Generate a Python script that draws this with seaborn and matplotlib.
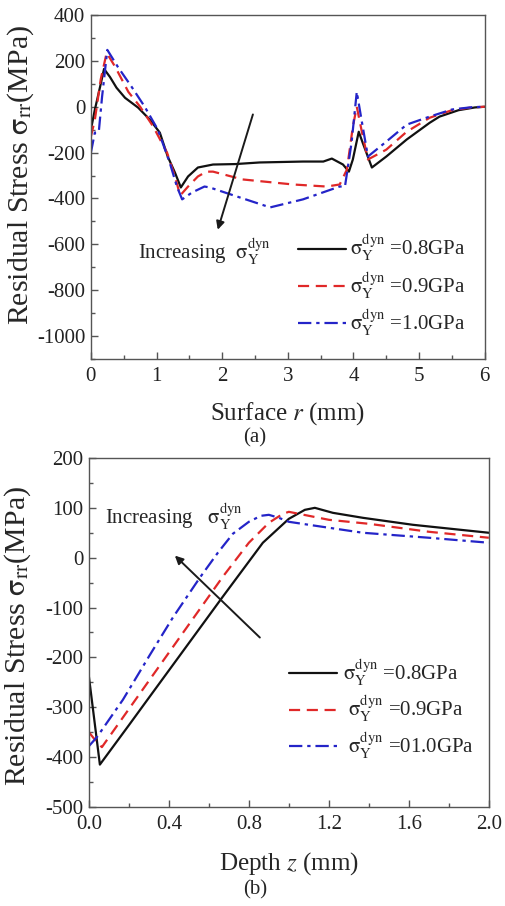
import numpy as np
import pandas as pd
import matplotlib
matplotlib.use("Agg")
import matplotlib.pyplot as plt
import seaborn as sns
from matplotlib.ticker import MultipleLocator

# ---------------- data: panel (a) surface profile ----------------
a_x_08 = [0.0, 0.06, 0.14, 0.2, 0.29, 0.39, 0.52, 0.72, 0.9, 1.05, 1.17, 1.28, 1.37, 1.48, 1.63, 1.86,
          2.2, 2.57, 3.23, 3.54, 3.67, 3.84, 3.93, 3.99, 4.08, 4.14, 4.28, 4.5, 4.81, 5.16, 5.31, 5.6, 5.85, 6.0]
a_y_08 = [-100, -13, 87, 165, 130, 83, 39, -4, -57, -113, -217, -287, -352, -304, -265, -252,
          -250, -243, -239, -239, -226, -252, -283, -230, -109, -157, -265, -217, -143, -70, -43, -15, -3, 0]

a_x_09 = [0.0, 0.06, 0.15, 0.24, 0.37, 0.57, 0.75, 0.95, 1.16, 1.28, 1.36, 1.48, 1.63, 1.76, 1.86,
          2.31, 3.08, 3.59, 3.79, 3.9, 3.99, 4.05, 4.13, 4.22, 4.5, 4.81, 5.16, 5.5, 5.8, 6.0]
a_y_09 = [-130, -57, 120, 235, 174, 65, 0, -87, -200, -304, -387, -348, -304, -283, -283,
          -317, -339, -348, -339, -274, -87, 0, -113, -230, -187, -109, -48, -15, -3, 0]

a_x_10 = [0.0, 0.06, 0.12, 0.17, 0.25, 0.41, 0.62, 0.82, 1.02, 1.2, 1.31, 1.39, 1.54, 1.73, 1.81,
          2.22, 2.73, 3.23, 3.79, 3.87, 3.97, 4.05, 4.13, 4.22, 4.5, 4.81, 5.16, 5.5, 5.8, 6.0]
a_y_10 = [-200, -113, -110, 43, 248, 174, 87, 0, -100, -243, -348, -404, -374, -348, -352,
          -391, -439, -404, -348, -348, -157, 65, -70, -217, -152, -78, -43, -12, -2, 0]

# ---------------- data: panel (b) depth profile ----------------
b_z_08 = [0.0, 0.055, 0.2, 0.3, 0.455, 0.67, 0.87, 1.0, 1.08, 1.13, 1.22, 1.37, 1.62, 2.0]
b_s_08 = [-238, -415, -336, -281, -196, -78, 30, 78, 96, 100, 90, 80, 66, 50]

b_z_09 = [0.0, 0.03, 0.065, 0.3, 0.5, 0.67, 0.8, 0.9, 0.97, 1.0, 1.1, 1.2, 1.4, 1.7, 2.0]
b_s_09 = [-350, -365, -380, -247, -134, -38, 30, 70, 88, 92, 84, 76, 68, 52, 40]

b_z_10 = [0.0, 0.04, 0.17, 0.305, 0.42, 0.555, 0.645, 0.72, 0.8, 0.86, 0.9, 0.95, 1.0, 1.1, 1.37, 1.7, 2.0]
b_s_10 = [-378, -360, -285, -195, -120, -40, 10, 48, 72, 84, 86, 80, 72, 66, 50, 40, 30]

SIG = r"$\mathrm{\sigma}_{\rm Y}^{\rm dyn}$"
labels_a = [SIG + " =0.8GPa", SIG + " =0.9GPa", SIG + " =1.0GPa"]
labels_b = [SIG + " =0.8GPa", " " + SIG + " =0.9GPa", " " + SIG + " =01.0GPa"]

colors = ["#111111", "#e02828", "#2424c8"]
styles = ["-", (0, (5, 3)), (0, (6, 2.2, 1.5, 2.2))]

sns.set_theme(style="white")
plt.rcParams["font.family"] = ["Liberation Serif", "DejaVu Serif"]
plt.rcParams["mathtext.fontset"] = "stix"
plt.rcParams["axes.unicode_minus"] = False

fig = plt.figure(figsize=(5.05, 9.06), dpi=100)
ax1 = fig.add_axes([0.180, 0.6038, 0.780, 0.3796])
ax2 = fig.add_axes([0.176, 0.1093, 0.792, 0.3852])

series_a = [(a_x_08, a_y_08), (a_x_09, a_y_09), (a_x_10, a_y_10)]
series_b = [(b_z_08, b_s_08), (b_z_09, b_s_09), (b_z_10, b_s_10)]

for ax, series, labels in [(ax1, series_a, labels_a), (ax2, series_b, labels_b)]:
    for (xs, ys), c, ls, lab in zip(series, colors, styles, labels):
        sns.lineplot(x=xs, y=ys, ax=ax, color=c, linestyle=ls, lw=1.6,
                     estimator=None, sort=False, label=lab)

fs_tick = 15
for ax in (ax1, ax2):
    for s in ax.spines.values():
        s.set_color("#555555")
        s.set_linewidth(1.0)
        s.set_visible(True)
    ax.tick_params(axis="both", which="both", direction="in", top=False, right=False,
                   bottom=True, left=True, colors="#555555", labelcolor="#222222",
                   labelsize=fs_tick)
    ax.tick_params(which="major", length=5, width=1)
    ax.tick_params(which="minor", length=3, width=1)
    ax.tick_params(axis="y", pad=4)
    ax.tick_params(axis="x", pad=6)

ax1.set_xlim(0, 6)
ax1.set_ylim(-1100, 400)
ax1.xaxis.set_major_locator(MultipleLocator(1))
ax1.xaxis.set_minor_locator(MultipleLocator(0.5))
ax1.yaxis.set_major_locator(MultipleLocator(200))
ax1.yaxis.set_minor_locator(MultipleLocator(100))

ax2.set_xlim(0, 2.0)
ax2.set_ylim(-500, 200)
ax2.xaxis.set_major_locator(MultipleLocator(0.4))
ax2.xaxis.set_minor_locator(MultipleLocator(0.2))
ax2.yaxis.set_major_locator(MultipleLocator(100))
ax2.yaxis.set_minor_locator(MultipleLocator(50))
ax2.xaxis.set_major_formatter(matplotlib.ticker.FormatStrFormatter("%.1f"))

YLAB = r"Residual Stress $\mathrm{\sigma}_{\rm rr}$(MPa)"
ax1.set_ylabel(YLAB, fontsize=21.5)
ax1.set_xlabel(r"Surface $r$ (mm)", fontsize=18)
ax2.set_ylabel(YLAB, fontsize=21.5)
ax2.set_xlabel(r"Depth $z$ (mm)", fontsize=18)
ax1.yaxis.set_label_coords(-0.14, 0.535)
ax1.xaxis.set_label_coords(0.5, -0.12)
ax2.yaxis.set_label_coords(-0.14, 0.49)
ax2.xaxis.set_label_coords(0.5, -0.123)

# legends
ax1.legend(loc="center left", bbox_to_anchor=(0.527, 0.215), frameon=False,
           fontsize=15, handlelength=2.3, handletextpad=0.15, labelspacing=0.3,
           borderpad=0, borderaxespad=0)
ax2.legend(loc="center left", bbox_to_anchor=(0.5, 0.281), frameon=False,
           fontsize=15, handlelength=2.3, handletextpad=0.3, labelspacing=0.25,
           borderpad=0, borderaxespad=0)

# annotations
ax1.annotate("", xy=(1.92, -548), xytext=(2.48, -22),
             arrowprops=dict(arrowstyle="-|>", color="k", lw=1.4, mutation_scale=12))
ax1.text(0.72, -630, "Increasing  " + r"$\mathrm{\sigma}_{\rm Y}^{\rm dyn}$", fontsize=15, va="center", ha="left")

ax2.annotate("", xy=(0.42, 8), xytext=(0.865, -164),
             arrowprops=dict(arrowstyle="-|>", color="k", lw=1.4, mutation_scale=12))
ax2.text(0.08, 82, "Increasing   " + r"$\mathrm{\sigma}_{\rm Y}^{\rm dyn}$", fontsize=15, va="center", ha="left")

fig.text(0.505, 1 - 438 / 906, "(a)", fontsize=15, ha="center", va="center")
fig.text(0.505, 1 - 890 / 906, "(b)", fontsize=15, ha="center", va="center")

fig.savefig("out.png", dpi=100)
